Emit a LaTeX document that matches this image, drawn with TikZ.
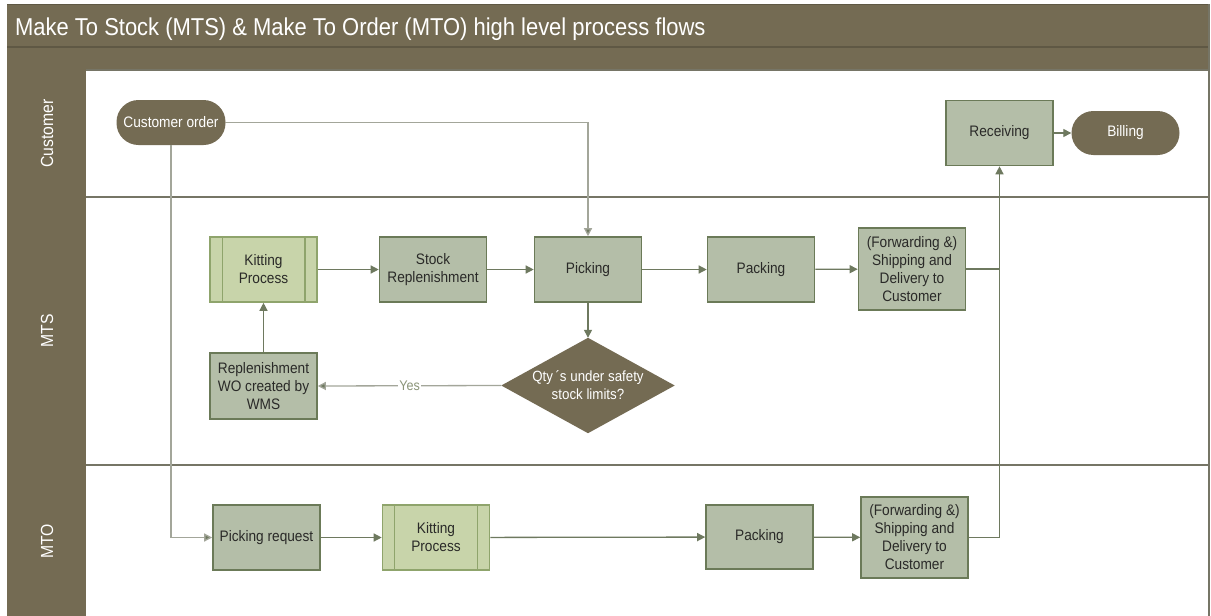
\documentclass[tikz,border=0pt]{standalone}
\usepackage{fontspec}
\setmainfont{Liberation Sans}
\newfontfamily\narrowfont{Liberation Sans}[FakeStretch=0.9]
\usetikzlibrary{arrows.meta}
\definecolor{band}{HTML}{746B53}
\definecolor{bandline}{HTML}{5F5844}
\definecolor{laneline}{HTML}{767566}
\definecolor{boxfill}{HTML}{B4BEA8}
\definecolor{boxdraw}{HTML}{6B7A58}
\definecolor{kitfill}{HTML}{C8D4AA}
\definecolor{kitdraw}{HTML}{8FA46C}
\definecolor{flowc}{HTML}{6E795F}
\definecolor{softc}{HTML}{A3A69A}
\definecolor{textc}{HTML}{2A2A28}
\definecolor{yesc}{HTML}{8A9477}
\tikzset{
  boxtext/.style={font=\narrowfont\fontsize{15.2}{18}\selectfont, text=textc, align=center, inner sep=2pt},
  task/.style={boxtext, draw=boxdraw, fill=boxfill, line width=1.6pt, minimum width=107pt, minimum height=65pt},
  kit/.style={boxtext, draw=kitdraw, fill=kitfill, line width=1.6pt, minimum width=107pt, minimum height=65pt},
  terminal/.style={font=\narrowfont\fontsize{15.2}{18}\selectfont, text=white, fill=band, rounded corners=22pt, minimum height=44pt, inner sep=2pt},
  lanelabel/.style={rotate=90, text=white, font=\narrowfont\fontsize{17.5}{20}\selectfont},
  flow/.style={draw=flowc, line width=1.3pt, -{Triangle[length=8pt,width=8pt]}},
  softflow/.style={draw=softc, line width=1.3pt, -{Triangle[length=8pt,width=8pt,fill=flowc]}},
  plain/.style={draw=flowc, line width=1.3pt},
}
\begin{document}
\begin{tikzpicture}[x=1pt,y=-1pt]
\useasboundingbox (0,0) rectangle (1211,616);
\fill[white] (0,0) rectangle (1211,616);

% header bands and lane label column
\fill[band] (7,4) rectangle (1209,70);
\draw[bandline, line width=1.2pt] (7,47) -- (1209,47);
\fill[band] (7,70) rectangle (86,620);
\draw[bandline, line width=1pt] (7,4) -- (1209,4);
\node[anchor=base west, text=white, font=\narrowfont\fontsize{24.4}{28}\selectfont, inner sep=0pt] (title) at (15,35)
  {Make To Stock (MTS) \& Make To Order (MTO) high level process flows};

% lane borders
\draw[laneline, line width=1.6pt] (86,70) -- (1209,70);
\draw[laneline, line width=1.6pt] (86,197) -- (1209,197);
\draw[laneline, line width=1.6pt] (86,465) -- (1209,465);
\draw[laneline, line width=1.6pt] (1209,4) -- (1209,620);

% lane labels
\node[lanelabel] (lcust) at (47,133.5) {Customer};
\node[lanelabel] (lmts) at (47,331) {MTS};
\node[lanelabel] (lmto) at (47,541.5) {MTO};

% Customer lane
\node[terminal, minimum width=109pt, minimum height=45pt] (cust) at (171,122.5) {Customer order};
\node[task] (recv) at (999.5,133) {Receiving};
\node[terminal, minimum width=108pt] (bill) at (1125.5,133) {Billing};

% MTS lane
\node[kit] (kit1) at (263.5,269.5) {Kitting\\Process};
\node[task] (stock) at (433,269.5) {Stock\\Replenishment};
\node[task] (pick) at (588,269.5) {Picking};
\node[task] (pack1) at (761,269.5) {Packing};
\node[task, minimum height=82pt] (fwd1) at (912,269) {(Forwarding \&)\\Shipping and\\Delivery to\\Customer};
\node[minimum width=173pt, minimum height=95pt, inner sep=0pt] (dia) at (588,385.5) {};
\fill[band] (dia.north) -- (dia.east) -- (dia.south) -- (dia.west) -- cycle;
\node[font=\narrowfont\fontsize{14.8}{18}\selectfont, text=white, align=center] (diatext) at (dia.center) {Qty\,´s under safety\\stock limits?};
\node[task, minimum height=66pt] (repl) at (263.5,386) {Replenishment\\WO created by\\WMS};

% MTO lane
\node[task] (preq) at (266.5,537.5) {Picking request};
\node[kit] (kit2) at (436,537.5) {Kitting\\Process};
\node[task, minimum height=64pt] (pack2) at (759.5,537) {Packing};
\node[task, minimum height=81pt] (fwd2) at (914.5,537.5) {(Forwarding \&)\\Shipping and\\Delivery to\\Customer};

% subprocess side bars
\foreach \k in {kit1,kit2}{
  \draw[kitdraw, line width=1.4pt] ([xshift=13pt]\k.north west) -- ([xshift=13pt]\k.south west);
  \draw[kitdraw, line width=1.4pt] ([xshift=-13pt]\k.north east) -- ([xshift=-13pt]\k.south east);
}

% connectors
\coordinate (j1) at (recv.south |- fwd1.east);
\draw[softflow] (cust.east) -| (pick.north);
\draw[softflow] (cust.south) |- (preq.west);
\draw[flow] (kit1) -- (stock);
\draw[flow] (stock) -- (pick);
\draw[flow] (pick) -- (pack1);
\draw[flow] (pack1) -- (fwd1);
\draw[flow] (pick) -- (dia.north);
\draw[softflow] (dia.west) -- node[fill=white, inner sep=1pt, text=yesc, font=\narrowfont\fontsize{14}{16}\selectfont] (yes) {Yes} (repl.east);
\draw[flow] (repl) -- (kit1);
\draw[plain] (fwd1.east) -- (j1);
\draw[flow] (fwd2.east) -| (recv.south);
\draw[flow] (recv) -- (bill);
\draw[flow] (preq) -- (kit2);
\draw[flow] (kit2) -- (pack2);
\draw[flow] (pack2) -- (fwd2);
\end{tikzpicture}
\end{document}
